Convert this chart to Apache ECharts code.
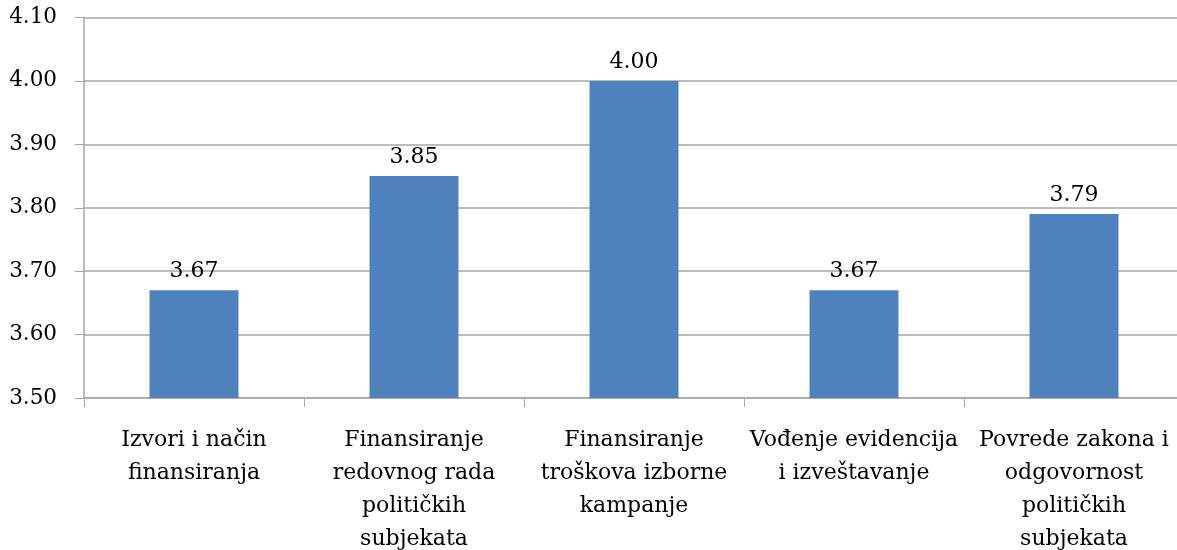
<!DOCTYPE html>
<html>
<head>
<meta charset="utf-8">
<script src="https://cdn.jsdelivr.net/npm/echarts@6/dist/echarts.min.js"></script>
<style>
html,body{margin:0;padding:0;background:#fff;overflow:hidden;}
#chart{width:1177px;height:550px;}
</style>
</head>
<body>
<div id="chart"></div>
<script>
const categories = [
  "Izvori i način\nfinansiranja",
  "Finansiranje\nredovnog rada\npolitičkih\nsubjekata",
  "Finansiranje\ntroškova izborne\nkampanje",
  "Vođenje evidencija\ni izveštavanje",
  "Povrede zakona i\nodgovornost\npolitičkih\nsubjekata"
];
const values = [3.67, 3.85, 4.00, 3.67, 3.79];
const yMin = 3.5, yMax = 4.1, yStep = 0.1;

const font = "'DejaVu Serif', 'Liberation Serif', serif";
const chart = echarts.init(document.getElementById('chart'));
chart.setOption({
  animation: false,
  backgroundColor: '#ffffff',
  grid: { left: 84, right: -7, top: 17.5, bottom: 152, containLabel: false, outerBoundsMode: 'none' },
  xAxis: {
    type: 'category',
    data: categories,
    axisLine: { lineStyle: { color: '#a6a6a6', width: 1.5 } },
    axisTick: { show: true, inside: false, length: 9, lineStyle: { color: '#a6a6a6' } },
    axisLabel: {
      interval: 0, margin: 26, color: '#000', fontFamily: font, fontSize: 22, lineHeight: 33
    }
  },
  yAxis: {
    type: 'value',
    min: yMin, max: yMax, interval: yStep,
    axisLine: { show: true, lineStyle: { color: '#a6a6a6', width: 1.5 } },
    axisTick: { show: true, length: 9, lineStyle: { color: '#a6a6a6' } },
    splitLine: { show: true, lineStyle: { color: '#a6a6a6', width: 1.5 } },
    axisLabel: {
      margin: 27, color: '#000', fontFamily: font, fontSize: 21.5,
      formatter: v => v.toFixed(2)
    }
  },
  series: [{
    type: 'bar',
    data: values,
    barWidth: 89,
    itemStyle: { color: '#4f81bd' },
    label: {
      show: true, position: 'top', distance: 8, color: '#000',
      fontFamily: font, fontSize: 22,
      formatter: p => p.value.toFixed(2)
    }
  }]
});
</script>
</body>
</html>
